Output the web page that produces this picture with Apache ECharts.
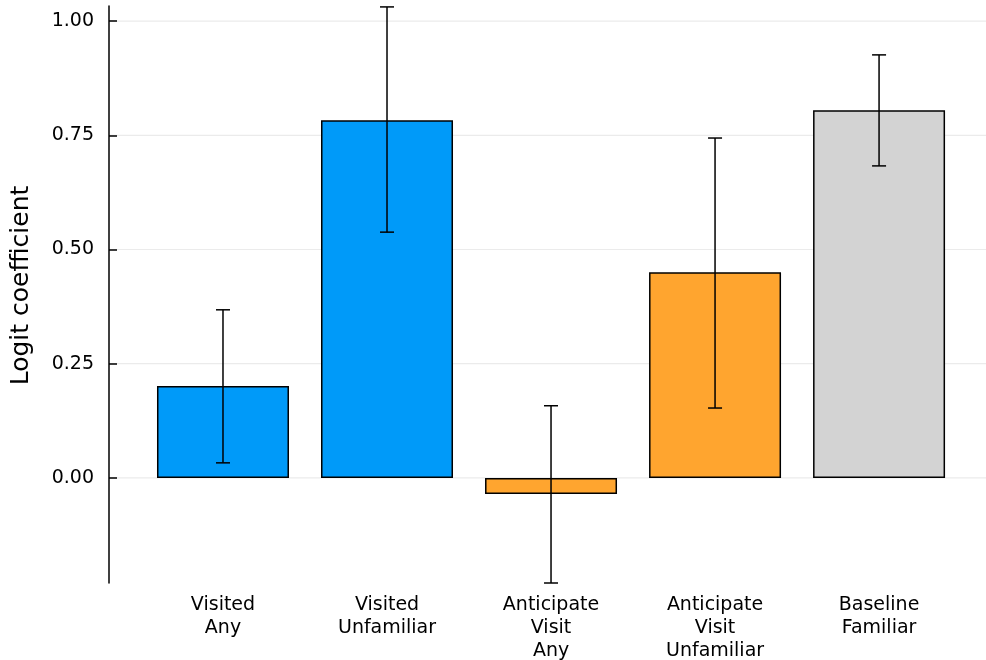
<!DOCTYPE html>
<html>
<head>
<meta charset="utf-8">
<script src="https://cdn.jsdelivr.net/npm/echarts@6/dist/echarts.min.js"></script>
<style>
  html, body { margin: 0; padding: 0; background: #fff; }
  #chart { width: 986px; height: 660px; }
</style>
</head>
<body>
<div id="chart"></div>
<script>
// Logit coefficients with confidence intervals
const categories = ['Visited\nAny', 'Visited\nUnfamiliar', 'Anticipate\nVisit\nAny', 'Anticipate\nVisit\nUnfamiliar', 'Baseline\nFamiliar'];
const coefficients = [0.201, 0.783, -0.035, 0.450, 0.805];
const lowerBounds = [0.033, 0.538, -0.230, 0.153, 0.683];
const upperBounds = [0.368, 1.031, 0.158, 0.744, 0.926];
const barColors = ['#009AF9', '#009AF9', '#FFA52F', '#FFA52F', '#D3D3D3'];
const yTicks = [0, 0.25, 0.5, 0.75, 1.0];

const positions = categories.map((_, i) => i + 1);
const FONT = 'DejaVu Sans';

const chart = echarts.init(document.getElementById('chart'), null, { renderer: 'canvas' });

chart.setOption({
  animation: false,
  backgroundColor: '#ffffff',
  grid: { left: 109, right: 0, top: 6, bottom: 77, containLabel: false, outerBoundsMode: 'none' },
  xAxis: {
    type: 'value',
    min: 0.305,
    max: 5.652,
    axisLine: { show: false },
    axisTick: { show: false },
    splitLine: { show: false },
    axisLabel: {
      customValues: positions,
      formatter: v => categories[Math.round(v) - 1] || '',
      fontFamily: FONT,
      fontSize: 19,
      color: '#000',
      lineHeight: 23,
      margin: 11,
      align: 'center',
      verticalAlign: 'top'
    }
  },
  yAxis: {
    type: 'value',
    min: -0.23,
    max: 1.033,
    name: 'Logit coefficient',
    nameLocation: 'middle',
    nameGap: 75,
    nameTextStyle: { fontFamily: FONT, fontSize: 25, color: '#000', padding: [0, 0, 0, 18] },
    axisLine: { show: true, lineStyle: { color: '#000', width: 1.5 } },
    axisTick: {
      show: true,
      inside: true,
      length: 8,
      customValues: yTicks,
      lineStyle: { color: '#000', width: 1.5 }
    },
    axisLabel: {
      customValues: yTicks,
      formatter: v => v.toFixed(2),
      fontFamily: FONT,
      fontSize: 19,
      color: '#000',
      margin: 15
    },
    splitLine: { show: false }
  },
  series: [
    {
      // horizontal gridlines at the tick values
      type: 'custom',
      silent: true,
      z: 0,
      data: yTicks.map(t => [t]),
      renderItem: function (params, api) {
        const p = api.coord([0.305, api.value(0)]);
        return {
          type: 'line',
          shape: { x1: params.coordSys.x, y1: p[1], x2: params.coordSys.x + params.coordSys.width, y2: p[1] },
          style: { stroke: '#ebebeb', lineWidth: 1.2 }
        };
      }
    },
    {
      type: 'bar',
      barWidth: 132,
      z: 2,
      data: coefficients.map((v, i) => ({
        value: [positions[i], v],
        itemStyle: { color: barColors[i], borderColor: '#000', borderWidth: 1.5 }
      }))
    },
    {
      // confidence-interval whiskers
      type: 'custom',
      z: 5,
      data: positions.map((x, i) => [x, lowerBounds[i], upperBounds[i]]),
      renderItem: function (params, api) {
        const lo = api.coord([api.value(0), api.value(1)]);
        const hi = api.coord([api.value(0), api.value(2)]);
        const cap = 7;
        const style = { stroke: '#000', lineWidth: 1.5, fill: null };
        return {
          type: 'group',
          children: [
            { type: 'line', shape: { x1: lo[0], y1: lo[1], x2: hi[0], y2: hi[1] }, style },
            { type: 'line', shape: { x1: lo[0] - cap, y1: lo[1], x2: lo[0] + cap, y2: lo[1] }, style },
            { type: 'line', shape: { x1: hi[0] - cap, y1: hi[1], x2: hi[0] + cap, y2: hi[1] }, style }
          ]
        };
      }
    }
  ]
});
</script>
</body>
</html>
